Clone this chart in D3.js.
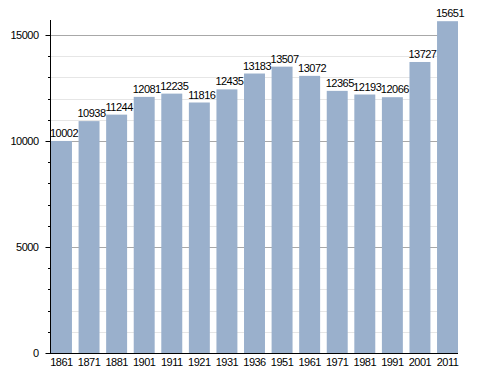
<!DOCTYPE html>
<html>
<head>
<meta charset="utf-8">
<script src="https://cdn.jsdelivr.net/npm/d3@7"></script>
<style>
  body { margin: 0; background: #fff; }
  text { font-family: "Liberation Sans", Arial, sans-serif; letter-spacing: -0.5px; }
</style>
</head>
<body>
<div id="chart"></div>
<script>
'use strict';

var years = ['1861', '1871', '1881', '1901', '1911', '1921', '1931', '1936', '1951', '1961', '1971', '1981', '1991', '2001', '2011'];
var population = [10002, 10938, 11244, 12081, 12235, 11816, 12435, 13183, 13507, 13072, 12365, 12193, 12066, 13727, 15651];
var majorTicks = [0, 5000, 10000, 15000];
var minorTicks = d3.range(1000, 16000, 1000).filter(function(v) { return v % 5000 !== 0; });

var width = 488, height = 373;
var plotLeft = 51, plotRight = 458, plotTop = 20, plotBottom = 353;

var svg = d3.select('#chart').append('svg')
  .attr('width', width)
  .attr('height', height);

var x = d3.scaleBand()
  .domain(years)
  .range([plotLeft, plotRight])
  .paddingInner(0.24)
  .paddingOuter(0);

var y = d3.scaleLinear()
  .domain([0, 15000])
  .range([plotBottom, 35]);

function py(d) { return Math.round(y(d)) + 0.5; }

// minor grid
svg.append('g')
  .selectAll('line')
  .data(minorTicks)
  .enter().append('line')
  .attr('x1', plotLeft).attr('x2', plotRight)
  .attr('y1', py).attr('y2', py)
  .attr('stroke', '#e6e6e6');

// major grid
svg.append('g')
  .selectAll('line')
  .data(majorTicks.slice(1))
  .enter().append('line')
  .attr('x1', plotLeft).attr('x2', plotRight)
  .attr('y1', py).attr('y2', py)
  .attr('stroke', '#a8a8a8');

// bars
svg.append('g')
  .selectAll('rect')
  .data(population)
  .enter().append('rect')
  .attr('x', function(d, i) { return x(years[i]); })
  .attr('y', function(d) { return y(d); })
  .attr('width', x.bandwidth())
  .attr('height', function(d) { return plotBottom - y(d); })
  .attr('fill', '#9ab0cc');

// value labels
svg.append('g')
  .attr('font-size', 11)
  .attr('text-anchor', 'middle')
  .selectAll('text')
  .data(population)
  .enter().append('text')
  .attr('x', function(d, i) { return x(years[i]) + x.bandwidth() / 2 + 2.5; })
  .attr('y', function(d) { return y(d) - 4; })
  .attr('fill', '#000')
  .text(function(d) { return d; });

// y axis
var yAxis = svg.append('g')
  .attr('transform', 'translate(' + (plotLeft - 0.5) + ',0)')
  .call(d3.axisLeft(y).tickValues(majorTicks).tickSize(5).tickPadding(7).tickFormat(d3.format('d')));
yAxis.select('.domain').remove();
yAxis.selectAll('text').attr('font-size', 11).attr('font-family', '"Liberation Sans", Arial, sans-serif');

svg.append('g')
  .selectAll('line')
  .data(minorTicks)
  .enter().append('line')
  .attr('x1', plotLeft - 3).attr('x2', plotLeft)
  .attr('y1', py).attr('y2', py)
  .attr('stroke', '#000');

svg.append('line')
  .attr('x1', plotLeft - 0.5).attr('x2', plotLeft - 0.5)
  .attr('y1', plotTop).attr('y2', plotBottom)
  .attr('stroke', '#000');

// x axis
var xAxis = svg.append('g')
  .attr('transform', 'translate(0,' + (plotBottom + 0.5) + ')')
  .call(d3.axisBottom(x).tickSize(0).tickPadding(5));
xAxis.select('.domain').remove();
xAxis.selectAll('text').attr('font-size', 11).attr('font-family', '"Liberation Sans", Arial, sans-serif');

svg.append('line')
  .attr('x1', plotLeft - 1).attr('x2', plotRight)
  .attr('y1', plotBottom + 0.5).attr('y2', plotBottom + 0.5)
  .attr('stroke', '#000');
</script>
</body>
</html>
